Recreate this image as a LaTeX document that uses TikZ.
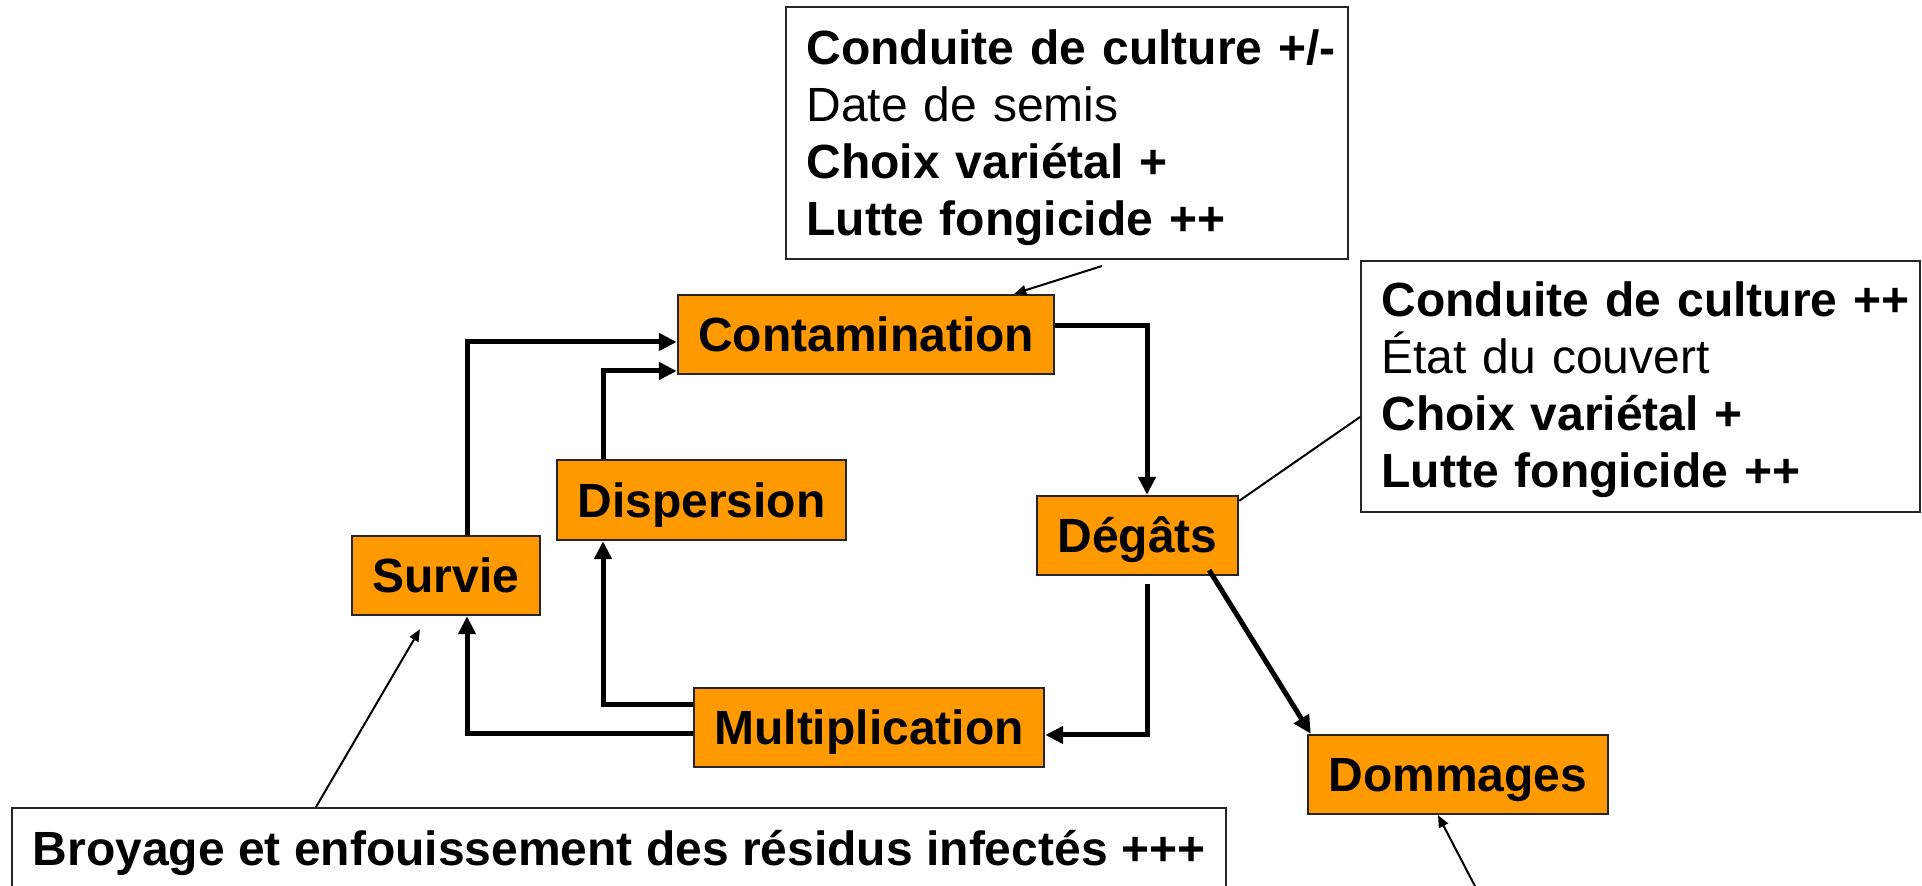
\documentclass[tikz,border=0pt]{standalone}
\usepackage{fontspec}
\setmainfont{Liberation Sans}
\usetikzlibrary{arrows.meta}
\definecolor{stageorange}{HTML}{FF9900}
\begin{document}
\begin{tikzpicture}[x=0.5pt,y=-0.5pt,
  stage/.style={draw=black!85, line width=1.2pt, fill=stageorange,
    font=\bfseries\fontsize{24}{28.5}\selectfont, text height=17.3pt, text depth=0pt,
    inner sep=0pt, minimum height=39.5pt},
  callbox/.style={draw=black!85, line width=1pt, fill=white, inner sep=0pt},
  calltext/.style={anchor=base west, inner sep=0pt, text width=270pt, align=left,
    font=\fontsize{24}{28.5}\selectfont},
  flow/.style={line width=2.5pt, -{Triangle[length=9pt,width=8.5pt]}},
  pointer/.style={line width=1pt, -{Triangle[length=6pt,width=5pt]}},
  plainline/.style={line width=1pt}
]
\useasboundingbox (0,0) rectangle (1922,886);

% callout boxes
\node[callbox, minimum width=281pt, minimum height=126pt] (topbox) at (1067,133) {};
\node[calltext] (toptext) at (806,65) {\textbf{Conduite de culture +/-}\\Date de semis\\\textbf{Choix variétal +}\\\textbf{Lutte fongicide ++}};

\node[callbox, minimum width=279.5pt, minimum height=125.5pt] (rightbox) at (1640.5,386.5) {};
\node[calltext] (righttext) at (1381,317) {\textbf{Conduite de culture ++}\\État du couvert\\\textbf{Choix variétal +}\\\textbf{Lutte fongicide ++}};

\node[callbox, minimum width=607pt, minimum height=40pt,
  font=\bfseries\fontsize{24}{28.5}\selectfont, text height=17.3pt, text depth=0pt]
  (bottombox) at (619,848) {Broyage et enfouissement des résidus infectés +++};

% stages
\node[stage, minimum width=188pt] (cont) at (866,334.5) {Contamination};
\node[stage, minimum width=144.5pt, minimum height=40pt] (disp) at (701.5,500) {Dispersion};
\node[stage, minimum width=94pt] (surv) at (446,575.5) {Survie};
\node[stage, minimum width=175pt] (mult) at (869,727.5) {Multiplication};
\node[stage, minimum width=100.5pt] (deg) at (1137.5,535.5) {Dégâts};
\node[stage, minimum width=150pt] (dom) at (1458,774.5) {Dommages};

% cycle connectors
\draw[flow] ([yshift=4.25pt]cont.east) -| ([xshift=4.75pt]deg.north);
\draw[flow] ([xshift=4.75pt,yshift=-4pt]deg.south) |- ([yshift=-3.75pt]mult.east);
\draw[flow] ([xshift=-15pt,yshift=3pt]deg.south east) -- ([xshift=2pt]dom.north west);
\draw[flow] ([yshift=-3.25pt]mult.west) -| ([xshift=10.5pt]surv.south);
\draw[flow] ([yshift=11.25pt]mult.west) -| ([xshift=-49.25pt]disp.south);
\draw[flow] ([xshift=10.5pt]surv.north) |- ([yshift=-3.75pt]cont.west);
\draw[flow] ([xshift=-49.25pt]disp.north) |- ([yshift=-18.25pt]cont.west);

% callout pointers
\draw[pointer] ([xshift=17.5pt,yshift=-3pt]topbox.south) -- ([xshift=-20.5pt]cont.north east);
\draw[plainline] ([yshift=-15.25pt]rightbox.west) -- ([yshift=-3pt]deg.north east);
\draw[pointer] ([xshift=-151.5pt]bottombox.north) -- ([xshift=-13pt,yshift=-6.5pt]surv.south);
\coordinate (domsrc) at (1477,890);
\draw[pointer] (domsrc) -- ([xshift=-10pt]dom.south);
\end{tikzpicture}
\end{document}
